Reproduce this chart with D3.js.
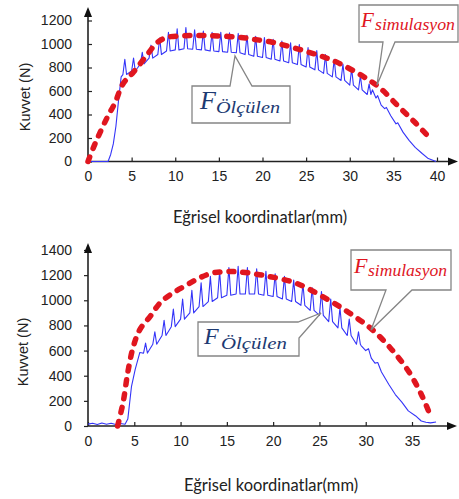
<!DOCTYPE html>
<html>
<head>
<meta charset="utf-8">
<script src="https://cdn.jsdelivr.net/npm/d3@7"></script>
<style>
body{margin:0;background:#fff;}
</style>
</head>
<body>
<svg width="459" height="499"></svg>
<script>
// tick values
var topXTicks = [0,5,10,15,20,25,30,35,40];
var topYTicks = [0,200,400,600,800,1000,1200];
var botXTicks = [0,5,10,15,20,25,30,35];
var botYTicks = [0,200,400,600,800,1000,1200,1400];

// top chart - simulation (red dashed), [mm, N]
var topSim = [[0,0],[0.8,150],[2.2,375],[3.1,500],[4,660],[5.2,760],[6.7,900],[7.9,1010],[9,1055],[11,1070],
  [13,1072],[15,1068],[17.3,1058],[19,1040],[21.1,1015],[23,980],[25.3,930],[27,890],[28.8,835],[31.4,730],
  [33.4,630],[35.7,460],[37.6,323],[39.1,205]];
// top chart - measured, rising part / teeth [x, low, high] / tail
var topMeasStart = [[0,0],[2.3,0],[2.6,60],[2.9,150],[3.2,300],[3.5,520],[3.8,720]];
var topMeasTeeth = [[4,740,870],[5,770,880],[6,830,930],[7,880,990],[8,910,1050],[9,940,1100],[10,950,1130],
  [11,960,1140],[12,955,1120],[13,950,1110],[14,940,1100],[15,935,1100],[16,930,1095],[17,925,1090],
  [18,910,1075],[19,895,1065],[20,885,1055],[21,870,1040],[22,855,1025],[23,840,1010],[24,825,995],
  [25,805,970],[26,780,945],[27,750,910],[28,720,870],[29,690,830],[30,650,790],[31,610,730],[32,570,660]];
var topMeasEnd = [[32.6,610],[33,540],[33.2,560],[33.6,480],[34,450],[34.2,460],[34.7,390],[35.3,320],[35.5,330],
  [36.1,250],[36.8,180],[37.5,120],[38.3,68],[39,25],[39.9,0]];

// bottom chart
var botSim = [[3.2,0],[3.8,190],[4.3,427],[4.9,633],[5.6,767],[6.7,870],[7.8,980],[9.2,1060],[10.7,1123],
  [12.1,1180],[13.5,1218],[15,1228],[16.3,1226],[18.8,1200],[22.5,1135],[26,1002],[28.5,886],[30.7,767],
  [32.8,609],[34.7,427],[36.1,237],[37,79]];
var botMeasStart = [[0,15],[0.5,22],[1,12],[1.5,24],[2,14],[2.5,22],[3,12],[3.5,20],[4,14],[4.3,55],[4.7,316],
  [5.1,450],[5.6,585],[5.9,580]];
var botMeasTeeth = [[6,580,660],[7,650,750],[8,720,840],[9,790,930],[10,850,1010],[11,900,1080],[12,950,1140],
  [13,990,1190],[14,1020,1230],[15,1040,1260],[16,1050,1270],[17,1050,1260],[18,1050,1250],[19,1040,1230],
  [20,1030,1210],[21,1010,1190],[22,990,1160],[23,960,1130],[24,920,1100],[25,880,1070],[26,830,1010],
  [27,780,940],[28,720,850],[29,650,750]];
var botMeasEnd = [[29.5,640],[30,600],[30.3,615],[30.6,540],[31,500],[31.3,505],[31.7,430],[32.5,330],[33.2,250],
  [33.9,190],[34.6,120],[35.4,80],[36,40],[36.5,30],[37,25],[37.6,32]];

var svg = d3.select('svg');
var red = '#e0161f', blue = '#3434f8';

// turns the measured pieces into one point list (spike per tooth)
function measured(start, teeth, end){
  var pts = start.slice();
  teeth.forEach(function(t){
    pts.push([t[0], t[1]]);
    pts.push([t[0] + 0.22, t[2]]);
    pts.push([t[0] + 0.42, t[1]]);
  });
  return pts.concat(end);
}

function drawChart(o){
  var x = d3.scaleLinear().domain(o.xDom).range(o.xRange);
  var y = d3.scaleLinear().domain(o.yDom).range(o.yRange);
  var g = svg.append('g');

  var yAxis = d3.axisLeft(y).tickValues(o.yTicks).tickFormat(d3.format('d'))
    .tickSize(o.yTick).tickPadding(16 - Math.max(o.yTick, 0));
  var ya = g.append('g').attr('transform', 'translate(' + o.xRange[0] + ',0)').call(yAxis);
  var xAxis = d3.axisBottom(x).tickValues(o.xTicks).tickFormat(d3.format('d')).tickSize(-4).tickPadding(10);
  var xa = g.append('g').attr('transform', 'translate(0,' + o.yRange[0] + ')').call(xAxis);
  ya.select('.domain').remove();
  xa.select('.domain').remove();
  g.selectAll('.tick line').attr('stroke', '#222').attr('stroke-width', 1.2);
  g.selectAll('.tick text').attr('fill', '#222')
    .style('font-family', '"Liberation Sans",Arial,sans-serif').style('font-size', '14px');

  // axis lines with arrows
  var x0 = o.xRange[0], y0 = o.yRange[0];
  g.append('line').attr('x1', x0).attr('y1', y0).attr('x2', x0).attr('y2', o.yTip + 6)
    .attr('stroke', '#222').attr('stroke-width', 1.6);
  g.append('line').attr('x1', x0).attr('y1', y0).attr('x2', o.xTip - 6).attr('y2', y0)
    .attr('stroke', '#222').attr('stroke-width', 1.6);
  g.append('path').attr('d', 'M' + x0 + ',' + o.yTip + 'l-4,10l8,0z').attr('fill', '#111');
  g.append('path').attr('d', 'M' + o.xTip + ',' + y0 + 'l-10,-4l0,8z').attr('fill', '#111');

  var line = d3.line().x(function(d){ return x(d[0]); }).y(function(d){ return y(d[1]); });

  g.append('path').datum(o.meas).attr('d', line)
    .attr('fill', 'none').attr('stroke', blue).attr('stroke-width', 1.1).attr('stroke-linejoin', 'round');

  g.append('path').datum(o.sim).attr('d', line.curve(d3.curveCatmullRom))
    .attr('fill', 'none').attr('stroke', red).attr('stroke-width', 5.5)
    .attr('stroke-dasharray', '5,9').attr('stroke-linecap', 'round');

  g.append('text').attr('transform', 'translate(' + o.yLabel[0] + ',' + o.yLabel[1] + ') rotate(-90)')
    .attr('text-anchor', 'middle').attr('dominant-baseline', 'central')
    .style('font-family', '"Liberation Sans",Arial,sans-serif').style('font-size', '14.5px').style('fill', '#222')
    .text('Kuvvet (N)');
  g.append('text').attr('x', o.xLabel[0]).attr('y', o.xLabel[1])
    .attr('text-anchor', 'middle').attr('dominant-baseline', 'central')
    .style('font-family', 'Lato,"Open Sans",sans-serif').style('font-size', '16.5px').style('fill', '#222')
    .text('Eğrisel koordinatlar(mm)');

  o.boxes.forEach(function(b){
    g.append('path').attr('d', b.shape).attr('fill', '#fff').attr('stroke', '#858585').attr('stroke-width', 1.3);
    var t = g.append('text').style('font-family', '"Liberation Serif","DejaVu Serif",serif')
      .style('font-style', 'italic').style('fill', b.color);
    t.append('tspan').attr('x', b.fx).attr('y', b.fy).style('font-size', b.fs + 'px').text('F');
    t.append('tspan').attr('x', b.sx).attr('y', b.sy).style('font-size', b.ss + 'px')
      .attr('textLength', b.sw).attr('lengthAdjust', 'spacingAndGlyphs').text(b.sub);
  });
}

drawChart({
  xDom: [0, 40], xRange: [88, 437], yDom: [0, 1200], yRange: [161.5, 20.5],
  xTicks: topXTicks, yTicks: topYTicks, yTick: -4, yTip: 7, xTip: 458,
  sim: topSim, meas: measured(topMeasStart, topMeasTeeth, topMeasEnd),
  yLabel: [25, 97], xLabel: [260, 217],
  boxes: [
    {shape: 'M192,86L230,86L235,56L252,86L290,86L290,123L192,123Z', color: '#1d3a72',
     fx: 200, fy: 109, fs: 26, sx: 216, sy: 113, ss: 17, sw: 64, sub: 'Ölçülen'},
    {shape: 'M359,5L458,5L458,42L395,42L377,85L383,42L359,42Z', color: red,
     fx: 361, fy: 27, fs: 21, sx: 375, sy: 30, ss: 16, sw: 80, sub: 'simulasyon'}
  ]
});

drawChart({
  xDom: [0, 35], xRange: [88, 412], yDom: [0, 1400], yRange: [426, 250],
  xTicks: botXTicks, yTicks: botYTicks, yTick: 4, yTip: 243, xTip: 457,
  sim: botSim, meas: measured(botMeasStart, botMeasTeeth, botMeasEnd),
  yLabel: [23, 352], xLabel: [271, 485],
  boxes: [
    {shape: 'M351,250L451,250L451,290L412,290L371,330L386,290L351,290Z', color: red,
     fx: 354, fy: 273, fs: 22, sx: 368, sy: 276, ss: 16, sw: 79, sub: 'simulasyon'},
    {shape: 'M198,322L298,322L321,313L299,338L299,356L198,356Z', color: '#1d3a72',
     fx: 204, fy: 344, fs: 24, sx: 221, sy: 349, ss: 17, sw: 66, sub: 'Ölçülen'}
  ]
});
</script>
</body>
</html>
